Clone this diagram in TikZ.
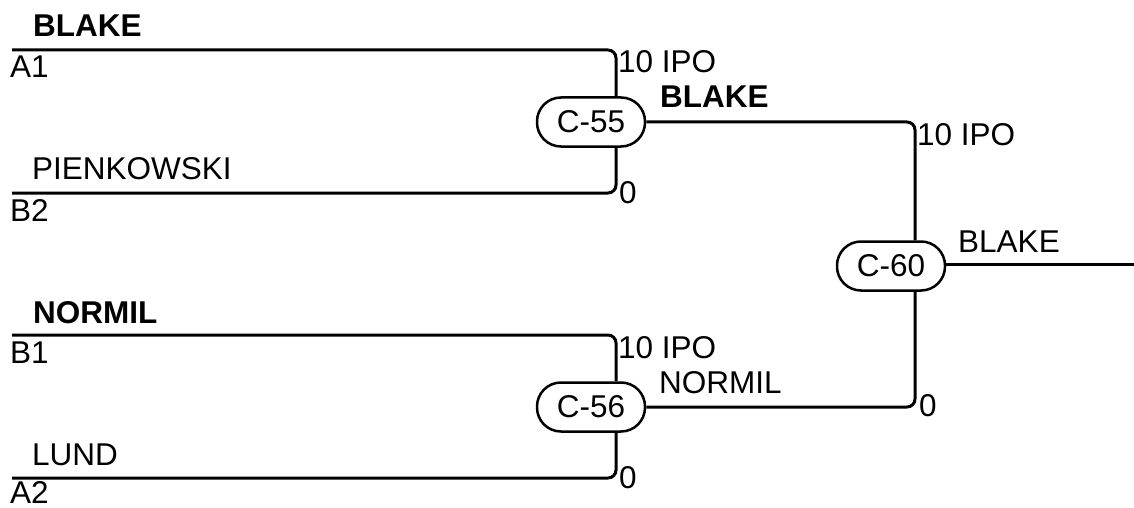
\documentclass[tikz,border=0pt]{standalone}
\usepackage{fontspec}
\setmainfont{Liberation Sans}
\usetikzlibrary{calc}
\newcommand{\fs}{\fontsize{31.5}{38}\selectfont}
\begin{document}
\begin{tikzpicture}[x=1pt,y=-1pt,
  wire/.style={line width=3pt, rounded corners=8pt},
  match/.style={draw, line width=2.5pt, minimum width=108pt, minimum height=49pt, rounded corners=24pt, inner sep=0pt, font=\fs},
  lbl/.style={anchor=base west, inner sep=0pt, font=\fs},
  blbl/.style={anchor=base west, inner sep=0pt, font=\fs\bfseries}]
\useasboundingbox (0,0) rectangle (1134,508);
% matches
\node[match] (c55) at (591,122) {C-55};
\node[match] (c56) at (591,407) {C-56};
\node[match] (c60) at (891,266) {C-60};
% line ends
\coordinate (a1) at (12,50);
\coordinate (b2) at (12,193);
\coordinate (b1) at (12,335);
\coordinate (a2) at (12,478);
\coordinate (out) at (1134,264);
% connectors
\draw[wire] (a1) -| ($(c55.north)+(25,0)$);
\draw[wire] (b2) -| ($(c55.south)+(25,0)$);
\draw[wire] (b1) -| ($(c56.north)+(25,0)$);
\draw[wire] (a2) -| ($(c56.south)+(25,0)$);
\draw[wire] (c55.east) -| ($(c60.north)+(24,0)$);
\draw[wire] (c56.east) -| ($(c60.south)+(24,0)$);
\draw[wire] (c60.east |- out) -- (out);
% labels
\node[blbl] (t1) at (33,37) {BLAKE};
\node[lbl] (t2) at (10,78) {A1};
\node[lbl] (t3) at (32,179) {PIENKOWSKI};
\node[lbl] (t4) at (10,221) {B2};
\node[blbl] (t5) at (33,323) {NORMIL};
\node[lbl] (t6) at (10,363) {B1};
\node[lbl] (t7) at (32,465) {LUND};
\node[lbl] (t8) at (10,503) {A2};
\node[lbl] (s1) at (618,73) {10 IPO};
\node[lbl] (s2) at (619,203) {0};
\node[lbl] (s3) at (618,358) {10 IPO};
\node[lbl] (s4) at (619,488) {0};
\node[blbl] (w1) at (660,107) {BLAKE};
\node[lbl] (w2) at (659,393) {NORMIL};
\node[lbl] (f1) at (917,145) {10 IPO};
\node[lbl] (f2) at (919,416) {0};
\node[lbl] (f3) at (958,252) {BLAKE};
\end{tikzpicture}
\end{document}
